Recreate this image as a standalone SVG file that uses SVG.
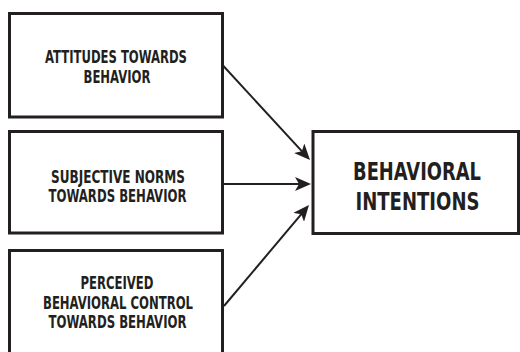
<svg xmlns="http://www.w3.org/2000/svg" width="520" height="352" viewBox="0 0 520 352">
<style>
.box{fill:#fff;stroke:#231f20;stroke-width:3}
.t{font-family:"Liberation Sans Narrow","DejaVu Sans Condensed","Liberation Sans",sans-serif;font-weight:bold;fill:#231f20;text-anchor:middle}
.s{font-size:17px}
.b{font-size:25px}
.c{stroke:#231f20;stroke-width:2;fill:none}
</style>
<defs>
<marker id="ah" markerUnits="userSpaceOnUse" markerWidth="17" markerHeight="14" refX="12" refY="7" orient="auto">
<path d="M0,0 L16,7 L0,14 L4,7 Z" fill="#231f20"/>
</marker>
</defs>
<rect width="520" height="352" fill="#fff"/>
<g id="attitudes">
<rect class="box" x="9.5" y="13.5" width="213" height="103.5"/>
<text class="t s" x="116" y="63" textLength="142" lengthAdjust="spacingAndGlyphs">ATTITUDES TOWARDS</text>
<text class="t s" x="117" y="82.5" textLength="67" lengthAdjust="spacingAndGlyphs">BEHAVIOR</text>
</g>
<g id="norms">
<rect class="box" x="9.5" y="131.5" width="213" height="101.5"/>
<text class="t s" x="118" y="182.5" textLength="134" lengthAdjust="spacingAndGlyphs">SUBJECTIVE NORMS</text>
<text class="t s" x="117.5" y="202" textLength="138" lengthAdjust="spacingAndGlyphs">TOWARDS BEHAVIOR</text>
</g>
<g id="control">
<rect class="box" x="9.5" y="250.5" width="213" height="115"/>
<text class="t s" x="117" y="289" textLength="73" lengthAdjust="spacingAndGlyphs">PERCEIVED</text>
<text class="t s" x="118" y="308.7" textLength="150" lengthAdjust="spacingAndGlyphs">BEHAVIORAL CONTROL</text>
<text class="t s" x="117.5" y="328.3" textLength="138" lengthAdjust="spacingAndGlyphs">TOWARDS BEHAVIOR</text>
</g>
<g id="intentions">
<rect class="box" x="313" y="131.5" width="205.5" height="102"/>
<text class="t b" x="417" y="180" textLength="128" lengthAdjust="spacingAndGlyphs">BEHAVIORAL</text>
<text class="t b" x="417.5" y="209.5" textLength="124" lengthAdjust="spacingAndGlyphs">INTENTIONS</text>
</g>
<g id="connectors">
<line class="c" x1="222.5" y1="65" x2="307.3" y2="157.1" marker-end="url(#ah)"/>
<line class="c" x1="222.5" y1="184" x2="307" y2="184" marker-end="url(#ah)"/>
<line class="c" x1="224" y1="306" x2="306.4" y2="208.1" marker-end="url(#ah)"/>
</g>
</svg>
